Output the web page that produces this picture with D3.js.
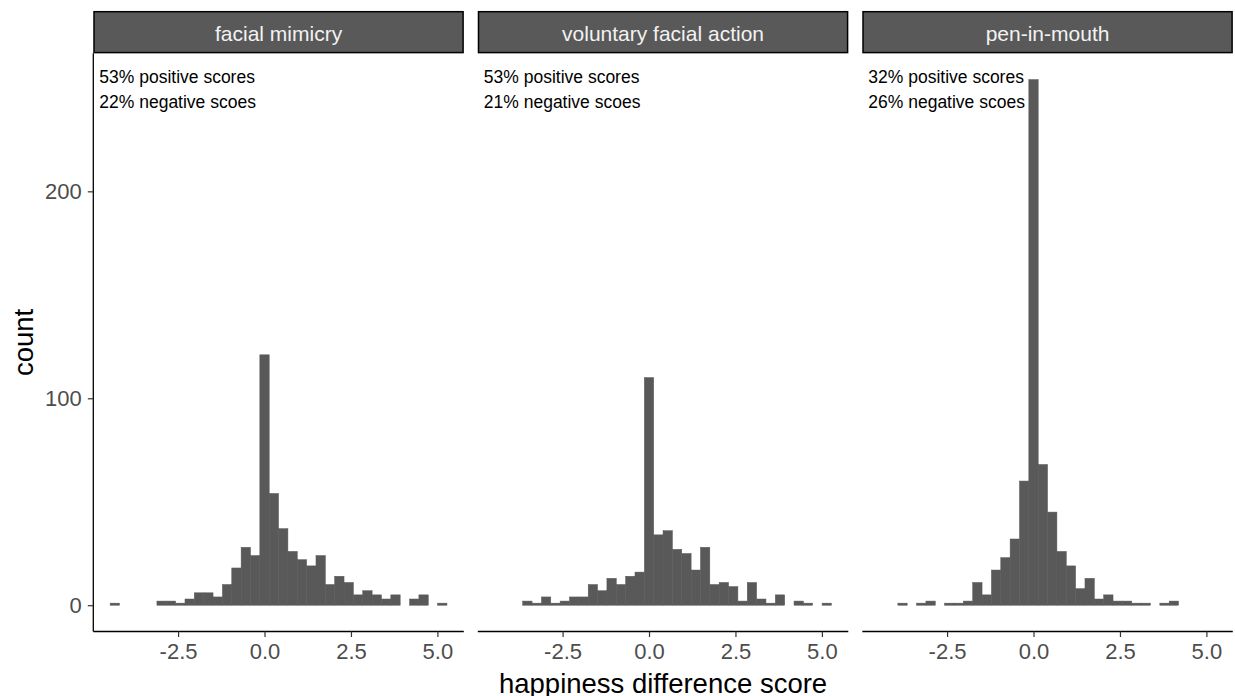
<!DOCTYPE html>
<html>
<head>
<meta charset="utf-8">
<script src="https://cdn.jsdelivr.net/npm/d3@7"></script>
<style>
  body { margin: 0; background: #fff; }
  text { font-family: "Liberation Sans", Arial, sans-serif; }
</style>
</head>
<body>
<svg id="chart" width="1235" height="696"></svg>
<script>
// facets, in panel order
var facets = ["facial mimicry", "voluntary facial action", "pen-in-mouth"];
var positiveLabels = ["53% positive scores", "53% positive scores", "32% positive scores"];
var negativeLabels = ["22% negative scoes", "21% negative scoes", "26% negative scoes"];

// histogram bins are centred on multiples of binWidth, first one at firstBin * binWidth
var binWidth = 0.2706;
var firstBin = -16;

// counts per bin (36 bins, shared by all facets)
var mimicryCounts   = [1,0,0,0,0,2,2,1,3,6,6,4,10,18,28,24,121,54,37,26,22,19,24,10,14,11,5,7,5,3,5,0,3,5,0,1];
var voluntaryCounts = [0,0,0,2,1,4,1,2,4,4,10,7,13,10,14,16,110,34,36,27,25,17,28,10,11,9,2,11,3,1,5,0,2,1,0,1];
var penCounts       = [0,0,1,0,1,2,0,1,1,2,11,5,17,23,32,60,254,68,45,26,19,8,13,3,5,2,2,1,1,0,1,2,0,0,0,0];

var xTicks = [-2.5, 0, 2.5, 5];
var yTicks = [0, 100, 200];

var allCounts = [mimicryCounts, voluntaryCounts, penCounts];

var svg = d3.select("#chart");

var marginLeft = 93.3;
var panelW = 370.5;
var panelGap = 14;
var stripTop = 11.7;
var panelTop = 53.3;
var panelBottom = 631.5;

// bins as objects
function toBins(counts) {
  return counts.map(function (c, i) {
    var k = firstBin + i;
    return { x0: (k - 0.5) * binWidth, x1: (k + 0.5) * binWidth, count: c };
  });
}

// ggplot-like 5% expansion
var lo = (firstBin - 0.5) * binWidth;
var hi = (firstBin + mimicryCounts.length - 0.5) * binWidth;
var padX = (hi - lo) * 0.05;
var maxCount = d3.max(allCounts, function (a) { return d3.max(a); });
var padY = maxCount * 0.05;

var x = d3.scaleLinear().domain([lo - padX, hi + padX]).range([0, panelW]);
var y = d3.scaleLinear().domain([-padY, maxCount + padY]).range([panelBottom, panelTop]);

facets.forEach(function (name, p) {
  var left = marginLeft + p * (panelW + panelGap);
  var g = svg.append("g").attr("transform", "translate(" + left + ",0)");

  // bars
  g.append("g")
    .selectAll("rect")
    .data(toBins(allCounts[p]).filter(function (d) { return d.count > 0; }))
    .enter()
    .append("rect")
    .attr("x", function (d) { return x(d.x0); })
    .attr("width", function (d) { return x(d.x1) - x(d.x0); })
    .attr("y", function (d) { return y(d.count); })
    .attr("height", function (d) { return y(0) - y(d.count); })
    .attr("fill", "#595959")
    .attr("stroke", "#595959")
    .attr("stroke-width", 0.5);

  // strip
  g.append("rect")
    .attr("x", 0.7).attr("y", stripTop)
    .attr("width", panelW - 1.4).attr("height", panelTop - stripTop - 0.7)
    .attr("fill", "#595959")
    .attr("stroke", "#000")
    .attr("stroke-width", 1.5);
  g.append("text")
    .text(name)
    .attr("x", panelW / 2)
    .attr("y", 40.5)
    .attr("text-anchor", "middle")
    .attr("font-size", 21)
    .attr("fill", "#f2f2f2");

  // annotations
  g.append("text").text(positiveLabels[p])
    .attr("x", 6).attr("y", 83).attr("font-size", 17.5).attr("fill", "#000");
  g.append("text").text(negativeLabels[p])
    .attr("x", 6).attr("y", 108).attr("font-size", 17.5).attr("fill", "#000");

  // x axis
  var xAxis = d3.axisBottom(x)
    .tickValues(xTicks)
    .tickSize(5.5)
    .tickPadding(6)
    .tickFormat(d3.format(".1f"));
  var ax = g.append("g")
    .attr("transform", "translate(0," + panelBottom + ")")
    .call(xAxis);
  ax.select(".domain").attr("stroke", "#000").attr("stroke-width", 1.3)
    .attr("d", "M0,0H" + panelW);
  ax.selectAll(".tick line").attr("stroke", "#333").attr("stroke-width", 1.2);
  ax.selectAll(".tick text")
    .attr("font-size", 22)
    .attr("fill", "#4d4d4d")
    .attr("font-family", "Liberation Sans, Arial, sans-serif")
    .text(function (d) { return d3.format(".1f")(d).replace("\u2212", "-"); });

  // y axis only on first panel
  if (p === 0) {
    var yAxis = d3.axisLeft(y)
      .tickValues(yTicks)
      .tickSize(5.5)
      .tickPadding(6);
    var ay = g.append("g").call(yAxis);
    ay.select(".domain").attr("stroke", "#000").attr("stroke-width", 1.3)
      .attr("d", "M0," + panelTop + "V" + panelBottom);
    ay.selectAll(".tick line").attr("stroke", "#333").attr("stroke-width", 1.2);
    ay.selectAll(".tick text")
      .attr("font-size", 22)
      .attr("fill", "#4d4d4d")
      .attr("font-family", "Liberation Sans, Arial, sans-serif");
  }
});

// axis titles
svg.append("text")
  .text("happiness difference score")
  .attr("x", marginLeft + (3 * panelW + 2 * panelGap) / 2)
  .attr("y", 693)
  .attr("text-anchor", "middle")
  .attr("font-size", 27.5)
  .attr("fill", "#000");

svg.append("text")
  .text("count")
  .attr("transform", "translate(33," + (panelTop + panelBottom) / 2 + ") rotate(-90)")
  .attr("text-anchor", "middle")
  .attr("font-size", 27.5)
  .attr("fill", "#000");
</script>
</body>
</html>
